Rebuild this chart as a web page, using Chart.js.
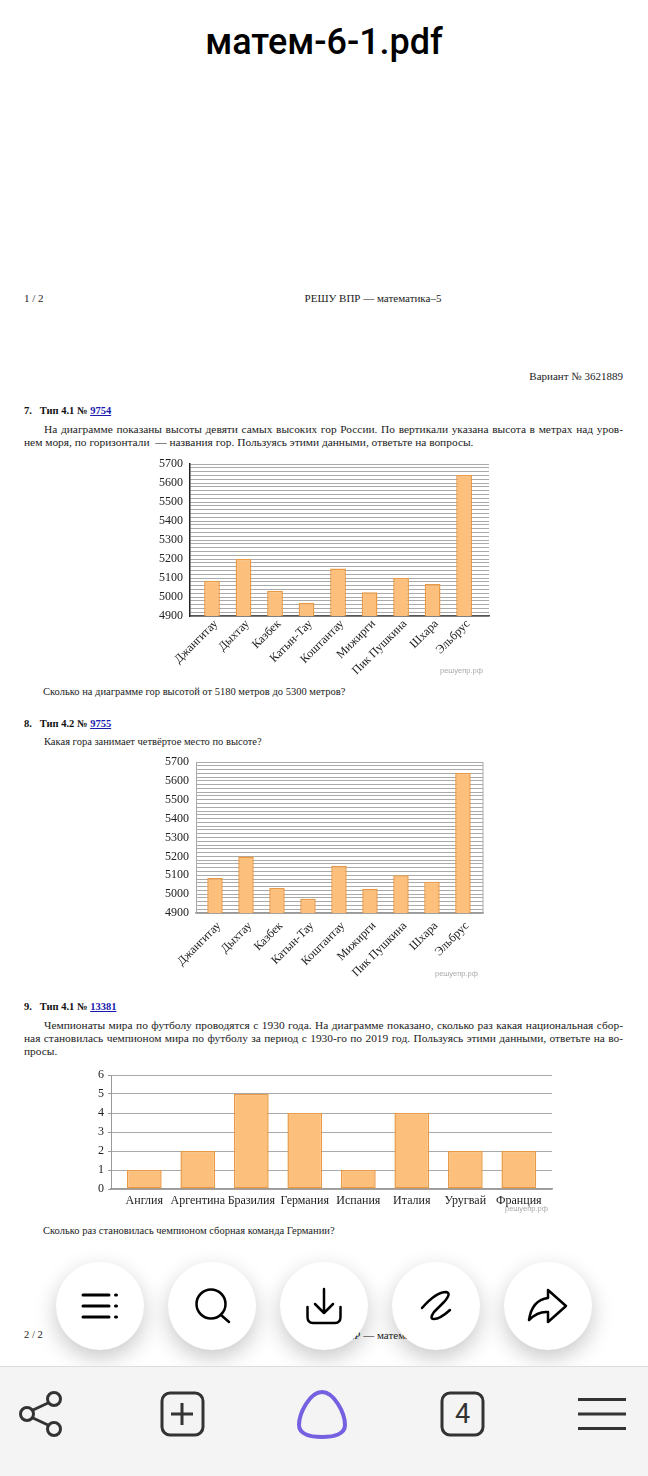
<!DOCTYPE html>
<html lang="ru">
<head>
<meta charset="utf-8">
<title>матем-6-1.pdf</title>
<script src="https://cdn.jsdelivr.net/npm/chart.js@4/dist/chart.umd.min.js"></script>
<style>
html, body { margin: 0; padding: 0; background: #fff; }
body { position: relative; width: 648px; height: 1476px; overflow: hidden; }
.t { position: absolute; font-family: "Liberation Serif", serif; font-size: 10.5px; line-height: 12px; color: #222; white-space: nowrap; }
.h { font-size: 11px; }
.p { font-size: 11.4px; }
.j { text-align: justify; text-align-last: justify; white-space: normal; }
.b { font-weight: bold; color: #111; }
.b a { color: #1a1ab0; text-decoration: underline; }
.w { position: absolute; font-family: "Liberation Sans", sans-serif; font-size: 7.5px; line-height: 9px; color: #aaa; white-space: nowrap; }
#title { position: absolute; left: 0; top: 20px; width: 648px; text-align: center; font-family: Roboto, sans-serif; font-weight: 500; font-size: 36px; line-height: 44px; color: #000; }
canvas { position: absolute; }
.fab { position: absolute; top: 1262px; width: 88px; height: 88px; border-radius: 50%; background: #fff; box-shadow: 0 8px 22px rgba(0,0,0,.22); }
.fab svg { position: absolute; left: 0; top: 0; }
#bar { position: absolute; left: 0; top: 1366px; width: 648px; height: 110px; background: #f4f4f4; border-top: 1px solid #ddd; box-sizing: border-box; }
#bar svg { position: absolute; left: 0; top: -1367px; }
#tabs { position: absolute; left: 441px; top: 1393px; width: 43px; height: 42px; text-align: center; font-family: Roboto, sans-serif; font-weight: 400; font-size: 27px; line-height: 42px; color: #333; }
</style>
</head>
<body>
<div id="title">матем-6-1.pdf</div>

<div class="t h" style="left:24px;top:292px">1 / 2</div>
<div class="t h" style="left:273px;width:200px;text-align:center;top:292px">РЕШУ ВПР — математика–5</div>
<div class="t h" style="right:25px;top:370px">Вариант № 3621889</div>

<div class="t b" style="left:24px;top:405px">7.&nbsp;&nbsp; Тип 4.1 № <a>9754</a></div>
<div class="t p j" style="left:44px;width:579px;top:423px">На диаграмме показаны высоты девяти самых высоких гор России. По вертикали указана высота в метрах над уров-</div>
<div class="t p" style="left:24px;top:436px">нем моря, по горизонтали&nbsp; — названия гор. Пользуясь этими данными, ответьте на вопросы.</div>
<canvas id="c1" width="370" height="225" style="left:140px;top:455px"></canvas>
<div class="w" style="left:440px;top:666px">решуепр.рф</div>
<div class="t" style="left:43px;top:686px">Сколько на диаграмме гор высотой от 5180 метров до 5300 метров?</div>

<div class="t b" style="left:24px;top:718px">8.&nbsp;&nbsp; Тип 4.2 № <a>9755</a></div>
<div class="t" style="left:44px;top:736px">Какая гора занимает четвёртое место по высоте?</div>
<canvas id="c2" width="370" height="225" style="left:140px;top:755px"></canvas>
<div class="w" style="left:435px;top:969px">решуепр.рф</div>

<div class="t b" style="left:24px;top:1001px">9.&nbsp;&nbsp; Тип 4.1 № <a>13381</a></div>
<div class="t p j" style="left:44px;width:579px;top:1019px">Чемпионаты мира по футболу проводятся с 1930 года. На диаграмме показано, сколько раз какая национальная сбор-</div>
<div class="t p j" style="left:24px;width:599px;top:1032px">ная становилась чемпионом мира по футболу за период с 1930-го по 2019 год. Пользуясь этими данными, ответьте на во-</div>
<div class="t p" style="left:24px;top:1045px">просы.</div>
<canvas id="c3" width="490" height="150" style="left:80px;top:1065px"></canvas>
<div class="w" style="left:505px;top:1204px">решуепр.рф</div>
<div class="t" style="left:43px;top:1225px">Сколько раз становилась чемпионом сборная команда Германии?</div>

<div class="t" style="left:24px;top:1329px">2 / 2</div>
<div class="t h" style="left:273px;width:200px;text-align:center;top:1329px">РЕШУ ВПР — математика–5</div>

<div class="fab" style="left:56px"><svg width="88" height="88" fill="none" stroke="#000" stroke-width="3" stroke-linecap="round">
  <path d="M27 33H53M27 44H53M27 55H53M59.500 33H60.500M59.500 44H60.500M59.500 55H60.500"/></svg></div>
<div class="fab" style="left:168px"><svg width="88" height="88" fill="none" stroke="#000" stroke-width="2.500" stroke-linecap="round">
  <circle cx="43" cy="42" r="14.500"/><path d="M53 53L61 60"/></svg></div>
<div class="fab" style="left:280px"><svg width="88" height="88" fill="none" stroke="#000" stroke-width="2.500" stroke-linecap="round" stroke-linejoin="round">
  <path d="M44 27V51M35 42L44 51L53 42"/><path d="M27.500 45V55Q27.500 61 33 61H55Q60.500 61 60.500 55V45"/></svg></div>
<div class="fab" style="left:392px"><svg width="88" height="88" fill="none" stroke="#000" stroke-width="2.500" stroke-linecap="round" stroke-linejoin="round">
  <path d="M30 46Q44 30 54 30Q60 31 52 40L42 50Q37 57 42 57Q48 57 58 48"/></svg></div>
<div class="fab" style="left:504px"><svg width="88" height="88" fill="none" stroke="#000" stroke-width="2.500" stroke-linecap="round" stroke-linejoin="round">
  <path d="M25 58Q28 38 44 36V28L62 44L44 60V50Q34 49 25 58Z"/></svg></div>

<div id="bar"><svg width="648" height="1476" fill="none" stroke="#333" stroke-width="3">
  <circle cx="27" cy="1414" r="6.500"/><circle cx="54" cy="1399" r="6.500"/><circle cx="54" cy="1429" r="6.500"/>
  <path d="M33 1410L48 1403M33 1418L48 1425"/>
  <rect x="162" y="1393" width="41" height="42" rx="8"/><path d="M182 1403V1425M171 1414H193"/>
  <path d="M322 1392C334 1392 345 1413 345 1425C345 1434 334 1437 322 1437C310 1437 299 1434 299 1425C299 1413 310 1392 322 1392Z" stroke="#7460e0" stroke-width="4"/>
  <rect x="442" y="1393" width="41" height="42" rx="8"/>
  <path d="M578 1399.500H626M578 1414H626M578 1428.500H626"/>
</svg></div>
<div id="tabs">4</div>

<script>
const mountains = ["Джангитау", "Дыхтау", "Казбек", "Катын-Тау", "Коштантау", "Мижирги", "Пик Пушкина", "Шхара", "Эльбрус"];
const heights1 = [5085, 5200, 5033, 4970, 5150, 5025, 5100, 5068, 5642];
const heights2 = [5085, 5200, 5033, 4975, 5150, 5028, 5100, 5065, 5642];
const countries = ["Англия", "Аргентина", "Бразилия", "Германия", "Испания", "Италия", "Уругвай", "Франция"];
const titles = [1, 2, 5, 4, 1, 4, 2, 2];

// category axis with some extra room on both ends, the bars don't touch the plot edges
class PaddedCategory extends Chart.CategoryScale {
    static id = "paddedCategory";
    static defaults = Chart.CategoryScale.defaults;
    buildTicks() {
        const ticks = super.buildTicks();
        const pad = this.options.pad;
        this._startValue -= pad[0];
        this._valueRange += pad[0] + pad[1];
        return ticks;
    }
}
Chart.register(PaddedCategory);

// right edge line for the second chart
const frame = {
    id: "frame",
    beforeDatasetsDraw(chart, args, opts) {
        if (!opts.color) return;
        const a = chart.chartArea;
        const ctx = chart.ctx;
        ctx.save();
        ctx.strokeStyle = opts.color;
        ctx.lineWidth = 1;
        ctx.beginPath();
        ctx.moveTo(a.right, a.top);
        ctx.lineTo(a.right, a.bottom);
        ctx.stroke();
        ctx.restore();
    }
};

function drawBars(id, labels, values, o) {
    const canvas = document.getElementById(id);
    new Chart(canvas.getContext("2d"), {
        type: "bar",
        plugins: [frame],
        data: {
            labels: labels,
            datasets: [{
                data: values,
                backgroundColor: "#fdbf7c",
                borderColor: "#ea9a45",
                borderWidth: 1.5,
                borderSkipped: false,
                barPercentage: o.bar,
                categoryPercentage: 1
            }]
        },
        options: {
            responsive: false,
            animation: false,
            layout: { padding: { top: o.top, right: o.right, left: 0, bottom: 0 } },
            plugins: { legend: { display: false }, tooltip: { enabled: false }, frame: { color: o.frame } },
            scales: {
                x: {
                    type: "paddedCategory",
                    pad: o.pad,
                    grid: { display: false },
                    border: { color: o.xAxis, width: 1.5 },
                    ticks: {
                        autoSkip: false,
                        maxRotation: o.rotate,
                        minRotation: o.rotate,
                        padding: o.xPad,
                        labelOffset: o.rotate ? 4 : 0,
                        color: "#222",
                        font: { family: "Liberation Serif", size: 12 }
                    },
                    afterFit(scale) {
                        scale.height = o.below;
                        scale.paddingLeft = 0;
                        scale.paddingRight = 0;
                    }
                },
                y: {
                    min: o.min,
                    max: o.max,
                    grid: { color: "#aaa", lineWidth: 1, drawTicks: o.yTicks, tickLength: 3, tickColor: o.yAxis },
                    border: { color: o.yAxis, width: o.yWidth },
                    ticks: {
                        stepSize: o.step,
                        autoSkip: false,
                        padding: o.yTicks ? 4 : 7,
                        color: "#222",
                        font: { family: "Liberation Serif", size: 12 },
                        callback: (v) => (v % o.labelEvery === 0 ? String(v) : "")
                    },
                    afterFit(scale) {
                        scale.width = o.left;
                        scale.paddingTop = 0;
                        scale.paddingBottom = 0;
                    }
                }
            }
        }
    });
}

drawBars("c1", mountains, heights1, {
    bar: 0.5, pad: [0.198, 0.29], top: 9, right: 21, left: 50, below: 64, rotate: 45, xPad: -7,
    min: 4900, max: 5700, step: 20, labelEvery: 100, yTicks: false,
    xAxis: "#555", yAxis: "#222", yWidth: 1.5
});
drawBars("c2", mountains, heights2, {
    bar: 0.5, pad: [0.113, 0.147], top: 7, right: 27, left: 56, below: 67, rotate: 45, xPad: -2,
    min: 4900, max: 5700, step: 20, labelEvery: 100, yTicks: false,
    xAxis: "#999", yAxis: "#aaa", yWidth: 1, frame: "#aaa"
});
drawBars("c3", countries, titles, {
    bar: 0.65, pad: [0.122, 0.12], top: 10, right: 18, left: 31, below: 26, rotate: 0, xPad: -3,
    min: 0, max: 6, step: 1, labelEvery: 1, yTicks: true,
    xAxis: "#999", yAxis: "#999", yWidth: 1
});
</script>
</body>
</html>
